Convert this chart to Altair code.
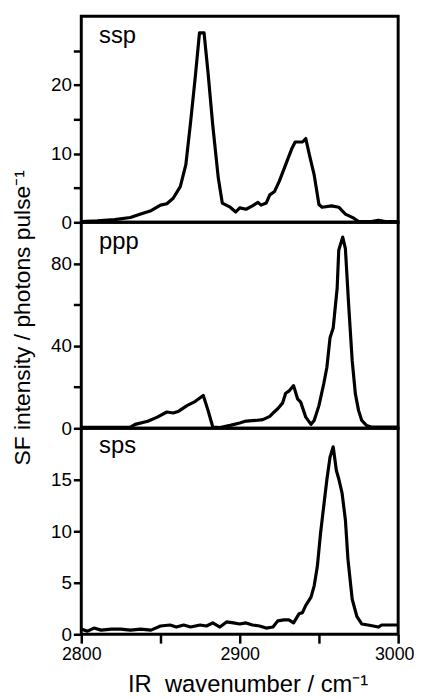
import altair as alt
import pandas as pd

# ---- data ----
ssp_wn = [2800, 2810, 2821, 2831, 2837.5, 2844, 2850, 2854, 2858, 2862.5, 2866, 2869, 2872,
          2874.6, 2877.5, 2880, 2883, 2886.5, 2889, 2894, 2897.5, 2900, 2904, 2908, 2911.5,
          2913.5, 2916.7, 2919, 2922, 2925, 2929, 2933, 2935, 2939.6, 2941.7, 2944, 2947,
          2950, 2952, 2958, 2962.5, 2966.7, 2972, 2975, 2983, 2987.5, 2992, 3000]
ssp_val = [0.1, 0.2, 0.4, 0.7, 1.2, 1.7, 2.5, 2.7, 3.5, 5.2, 8.4, 14.6, 21.3,
           27.6, 27.6, 21.8, 14.1, 6.4, 2.8, 2.2, 1.5, 2.1, 1.9, 2.4, 2.9,
           2.5, 2.8, 4.0, 4.5, 6.0, 8.4, 10.8, 11.7, 11.7, 12.2, 9.8, 6.9,
           2.6, 2.2, 2.4, 2.2, 1.2, 0.6, 0.1, 0.1, 0.3, 0.1, 0.1]

ppp_wn = [2800, 2815, 2831, 2834, 2842, 2848, 2854, 2858, 2861.5, 2866.7, 2872, 2877, 2880,
          2883, 2887.5, 2894, 2900, 2904, 2910, 2914.6, 2919, 2921, 2924, 2927, 2929, 2931,
          2934, 2936.5, 2938.5, 2941.7, 2945, 2947, 2950, 2953, 2955, 2957, 2959, 2961.5,
          2962.5, 2965, 2966.7, 2968.75, 2971, 2973, 2975, 2977, 2980, 2983, 3000]
ppp_val = [0.5, 0.5, 0.6, 1.9, 3.4, 5.4, 7.9, 7.4, 8.3, 11.0, 13.1, 15.9, 8.7,
           0.6, 0.3, 1.4, 2.6, 3.5, 3.8, 4.2, 5.8, 7.4, 9.5, 12.2, 17.0, 18.0,
           20.7, 14.3, 12.7, 5.4, 1.9, 3.8, 11.0, 21.5, 29.5, 43.9, 48.7, 68.0,
           86.4, 92.8, 87.2, 60.0, 32.7, 16.7, 8.7, 3.8, 1.4, 0.6, 0.6]

sps_wn = [2800, 2804, 2808, 2812.5, 2819, 2825, 2831, 2837.5, 2844, 2850, 2856, 2860,
          2864.6, 2869, 2875, 2879, 2883, 2887.5, 2891.7, 2896, 2900, 2904, 2908, 2912.5,
          2916.7, 2921, 2924, 2928, 2931, 2934, 2937.5, 2939.6, 2941.7, 2945, 2947, 2949,
          2951, 2953, 2955, 2957, 2959, 2961, 2962.5, 2964.6, 2966.7, 2968.3, 2971, 2974,
          2977, 2981, 2987.5, 2989.6, 2996, 3000]
sps_val = [0.5, 0.3, 0.6, 0.4, 0.5, 0.5, 0.4, 0.5, 0.4, 0.8, 0.9, 0.7,
           0.9, 0.7, 0.9, 0.8, 1.1, 0.7, 1.2, 1.1, 1.0, 1.1, 0.9, 0.8,
           0.6, 0.7, 1.3, 1.4, 1.4, 1.1, 2.0, 2.1, 2.8, 3.6, 4.7, 6.6,
           9.8, 12.4, 15.0, 17.2, 18.2, 15.9, 15.1, 13.7, 11.1, 7.3, 3.4, 1.7,
           1.0, 0.9, 0.7, 0.9, 0.9, 0.9]

panel_names = ["ssp", "ppp", "sps"]
x_ticks = [2800, 2850, 2900, 2950, 3000]
y_ticks = [[0, 5, 10, 15, 20, 25], [0, 20, 40, 60, 80], [0, 5, 10, 15]]
y_domains = [[0, 30], [0, 100], [0, 20]]
y_label_step = [10, 40, 5]
x_title = "IR\u00a0 wavenumber / cm\u207b\u00b9"
y_title = "SF intensity / photons pulse\u207b\u00b9"

FONT = "Liberation Sans"
W, H = 320, 208
label_y = [27, 27, 25]


def panel(wn, val, name, ticks, domain, step, show_x, ytitle, ly):
    df = pd.DataFrame({"wn": wn, "val": val})
    if show_x:
        xaxis = alt.Axis(values=x_ticks, format="d",
                         labelExpr="datum.value % 100 == 0 ? datum.label : ''",
                         labelOffset={"condition": {"test": "datum.value == 3000", "value": -4},
                                      "value": 0},
                         title=x_title, titleX=168,
                         titleFont=FONT, titleFontSize=24, titleFontWeight="normal",
                         titleColor="black", titlePadding=9,
                         labelFont=FONT, labelFontSize=18, labelColor="black",
                         labelFlush=False, labelOverlap=False, labelPadding=3,
                         tickSize=9, tickWidth=2.5, tickColor="black",
                         domain=False, grid=False)
    else:
        xaxis = None
    ykw = dict(values=ticks, format="d",
               labelExpr=f"datum.value % {step} == 0 ? datum.label : ''",
               labelFont=FONT, labelFontSize=19, labelColor="black",
               labelOverlap=False, labelPadding=2, labelFlush=False,
               tickSize=8, tickWidth=2.5, tickColor="black",
               domain=False, grid=False)
    if ytitle:
        yaxis = alt.Axis(title=ytitle, titleFont=FONT, titleFontSize=23,
                         titleFontWeight="normal", titleColor="black",
                         titlePadding=16, titleY=96, **ykw)
    else:
        yaxis = alt.Axis(title=None, **ykw)

    line = alt.Chart(df).mark_line(color="black", strokeWidth=3.2, clip=True,
                                   strokeJoin="round").encode(
        x=alt.X("wn:Q", scale=alt.Scale(domain=[2800, 3000], nice=False, zero=False),
                axis=xaxis),
        y=alt.Y("val:Q", scale=alt.Scale(domain=domain, nice=False), axis=yaxis),
    )
    lab = alt.Chart(pd.DataFrame({"t": [name]})).mark_text(
        font=FONT, fontSize=24, color="black", align="left", baseline="alphabetic"
    ).encode(text="t:N", x=alt.value(18), y=alt.value(ly))
    return (line + lab).properties(width=W, height=H)


p1 = panel(ssp_wn, ssp_val, panel_names[0], y_ticks[0], y_domains[0], y_label_step[0], False, None, label_y[0])
p2 = panel(ppp_wn, ppp_val, panel_names[1], y_ticks[1], y_domains[1], y_label_step[1], False, y_title, label_y[1])
p3 = panel(sps_wn, sps_val, panel_names[2], y_ticks[2], y_domains[2], y_label_step[2], True, None, label_y[2])

chart = alt.vconcat(p1, p2, p3, spacing=0, bounds="flush").properties(
    padding={"left": 2, "top": 3, "right": -2, "bottom": 0}
).configure_view(stroke="black", strokeWidth=3)

chart.save("out.html", embed_options={"renderer": "svg", "actions": False})
